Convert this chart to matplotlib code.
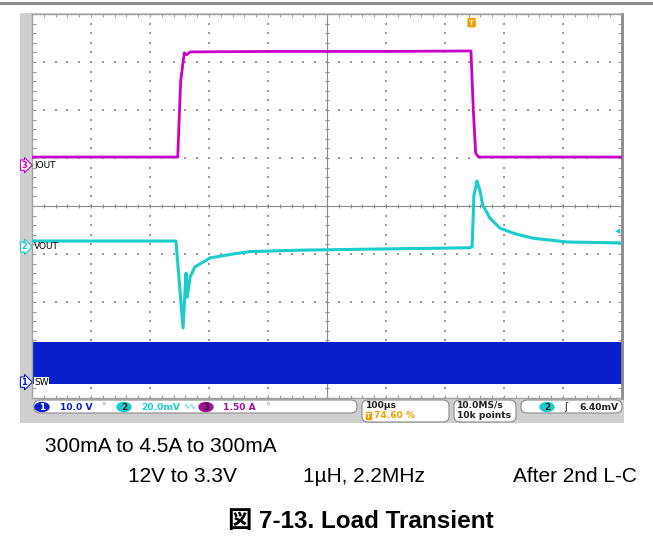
import numpy as np
import matplotlib
matplotlib.use("Agg")
import matplotlib.pyplot as plt
from matplotlib.patches import Rectangle, FancyBboxPatch, Ellipse
from matplotlib.lines import Line2D

# --- trace data (time in us, level in divisions from screen centre) ---
iout_t = [0, 247, 252, 258, 262, 268, 400, 600, 744, 748, 752, 757, 1000]
iout_div = [1.02, 1.02, 2.60, 3.19, 3.15, 3.21, 3.22, 3.22, 3.23, 2.00, 1.10, 1.02, 1.02]

vout_t = [0, 244, 256, 261, 263, 268, 276, 302, 341, 369, 454, 624, 742,
          746, 749, 753, 754, 759, 764, 776, 793, 819, 849, 907, 1000]
vout_div = [-0.73, -0.73, -2.54, -1.40, -1.90, -1.48, -1.27, -1.08, -1.00, -0.95, -0.92, -0.89, -0.87,
            -0.85, 0.23, 0.44, 0.52, 0.33, 0.02, -0.25, -0.46, -0.58, -0.67, -0.75, -0.77]

sw_t = [0, 1000]
sw_top = [-2.83, -2.83]
sw_bot = [-3.71, -3.71]

ch_names = ["SW", "VOUT", "IOUT"]
ch_ground = [-3.67, -0.85, 0.85]
ch_scale = ["10.0 V", "20.0mV", "1.50 A"]

bottom_lines = ["300mA to 4.5A to 300mA", "12V to 3.3V", "1\u00b5H, 2.2MHz", "After 2nd L-C"]
title = "\u56f3 7-13. Load Transient"

MAG = "#C800C8"
CYAN = "#1ACCCC"
BLUE = "#0A1ECC"
ORANGE = "#F0A000"
GRID = "#9a9a9a"

W, H = 653, 550
fig = plt.figure(figsize=(W / 100, H / 100), dpi=100)


def fx(x):
    return x / W


def fy(y):
    return 1 - y / H


# top rule and scope frame (behind the axes)
fig.add_artist(Line2D([0, 1], [fy(2.5), fy(2.5)], color="#8c8c8c", lw=2.2, zorder=-5))
fig.add_artist(Rectangle((fx(20), fy(423)), fx(624) - fx(20), (423 - 13) / H,
                         color="#cfcfcf", lw=0, zorder=-5))

ax = fig.add_axes([fx(32), fy(398), 590 / W, 384 / H])
ax.set_xlim(0, 1000)
ax.set_ylim(-4, 4)
ax.set_xticks([])
ax.set_yticks([])
for s in ax.spines.values():
    s.set_color("#a0a0a0")
    s.set_linewidth(1)
ax.spines["right"].set_color("#8a8a8a")
ax.spines["right"].set_linewidth(2)

# graticule
minor_x = np.arange(0, 1001, 20)
minor_y = np.round(np.arange(-4, 4.01, 0.2), 2)
for gx in range(100, 1000, 100):
    if gx != 500:
        ax.scatter(np.full(len(minor_y), gx), minor_y, s=0.8, color=GRID, marker="s", lw=0, zorder=1)
for gy in [-3, -2, -1, 1, 2, 3]:
    ax.scatter(minor_x, np.full(len(minor_x), gy), s=0.8, color=GRID, marker="s", lw=0, zorder=1)
ax.axhline(0, color="#8a8a8a", lw=0.8, zorder=1)
ax.axvline(500, color="#8a8a8a", lw=0.8, zorder=1)
ax.vlines(minor_x, -0.05, 0.05, color="#8a8a8a", lw=0.8, zorder=1)
ax.hlines(minor_y, 496, 504, color="#8a8a8a", lw=0.8, zorder=1)
ax.vlines(minor_x, 4 - 0.07, 4, color="#a0a0a0", lw=0.8, zorder=1)
ax.vlines(minor_x, -4, -4 + 0.07, color="#a0a0a0", lw=0.8, zorder=1)
ax.hlines(minor_y, 0, 6, color="#a0a0a0", lw=0.8, zorder=1)
ax.hlines(minor_y, 994, 1000, color="#a0a0a0", lw=0.8, zorder=1)

# traces
ax.fill_between(sw_t, sw_bot, sw_top, color=BLUE, lw=0, zorder=2)
ax.plot(vout_t, vout_div, color=CYAN, lw=2.2, zorder=3)
ax.plot(iout_t, iout_div, color=MAG, lw=2.0, zorder=3)

# trigger markers
ax.text(745, 3.82, "T", color="white", fontsize=5, fontweight="bold", ha="center", va="center",
        bbox=dict(boxstyle="round,pad=0.15", fc=ORANGE, ec=ORANGE), zorder=5)
ax.text(993, -0.53, "\u25c0", color=CYAN, fontsize=5, ha="center", va="center", zorder=5)

# channel markers and labels
for num, name, g, col in zip(["1", "2", "3"], ch_names, ch_ground, [BLUE, CYAN, MAG]):
    ypx = 206 - g * 48
    fig.text(fx(24), fy(ypx), num, color=col, fontsize=6, fontweight="bold", ha="center", va="center",
             bbox=dict(boxstyle="rarrow,pad=0.08", fc="white", ec=col, lw=0.8))
    fig.text(fx(34), fy(ypx), name, color="black", fontsize=6.5, ha="left", va="center",
             bbox=dict(fc="white", ec="none", pad=0.3) if name == "SW" else None)

# status bar
def box(x0, y0, x1, y1):
    fig.add_artist(FancyBboxPatch((fx(x0), fy(y1)), fx(x1) - fx(x0), (y1 - y0) / H,
                                  boxstyle="round,pad=0,rounding_size=0.01",
                                  fc="white", ec="#8a8a8a", lw=0.8))


box(34, 400, 357, 413)
box(362, 400, 449, 422)
box(454, 400, 516, 422)
box(521, 400, 622, 413)

sb = dict(fontsize=6.6, va="center", ha="left", fontweight="bold")


def badge(xc, yc, num, col, tc):
    fig.add_artist(Ellipse((fx(xc), fy(yc)), 14 / W, 9 / H, color=col))
    fig.text(fx(xc), fy(yc), num, color=tc, fontsize=6.3, ha="center", va="center", fontweight="bold")


badge(42, 407, "1", BLUE, "white")
fig.text(fx(60), fy(407), ch_scale[0], color=BLUE, **sb)
fig.text(fx(103), fy(406), "\u1d2e", color="#8080e0", fontsize=5, va="center")
badge(124, 407, "2", CYAN, "#202020")
fig.text(fx(141), fy(407), ch_scale[1], color=CYAN, **sb)
fig.text(fx(183), fy(407), "\u223f\u223f", color=CYAN, fontsize=5.5, va="center")
badge(206, 407, "3", "#a0129a", "#300030")
fig.text(fx(223), fy(407), ch_scale[2], color="#a0129a", **sb)
fig.text(fx(267), fy(406), "\u1d2e", color="#c080d0", fontsize=5, va="center")

fig.text(fx(366), fy(405), "100\u00b5s", color="#202020", **sb)
fig.text(fx(366), fy(415.5), "T", color="white", fontsize=5, fontweight="bold", va="center",
         bbox=dict(boxstyle="square,pad=0.05", fc=ORANGE, ec=ORANGE))
fig.text(fx(374), fy(415.5), "74.60 %", color=ORANGE, **sb)
fig.text(fx(457), fy(405), "10.0MS/s", color="#202020", **sb)
fig.text(fx(457), fy(415.5), "10k points", color="#202020", **sb)
badge(547, 407, "2", CYAN, "#202020")
fig.text(fx(566), fy(407), "\u0283", color="#202020", fontsize=7, va="center", ha="center")
fig.text(fx(618), fy(407), "6.40mV", color="#202020", fontsize=6.6, va="center", ha="right",
         fontweight="bold")

# caption lines
cap = dict(fontsize=15, family=["Liberation Sans", "DejaVu Sans"], va="center", ha="left", color="black")
fig.text(fx(45), fy(446), bottom_lines[0], **cap)
fig.text(fx(128), fy(477), bottom_lines[1], **cap)
fig.text(fx(303), fy(477), bottom_lines[2], **cap)
fig.text(fx(513), fy(477), bottom_lines[3], **cap)
fig.text(fx(228), fy(521), title, fontsize=17.5, fontweight="bold",
         family=["Liberation Sans", "Noto Sans CJK JP"], va="center", ha="left")

fig.savefig("out.png", dpi=100)
